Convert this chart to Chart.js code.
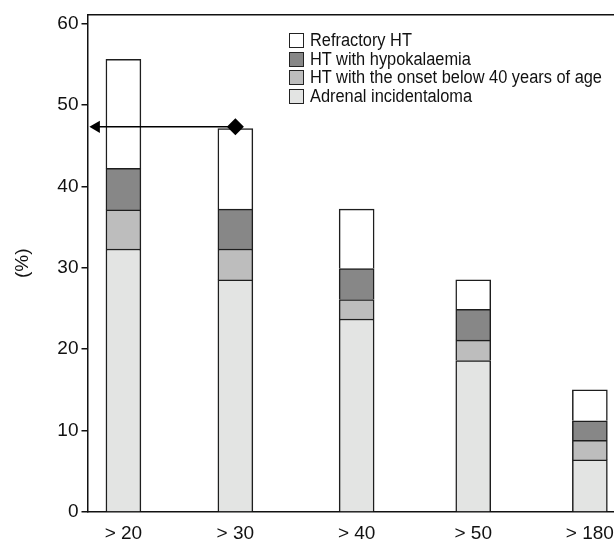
<!DOCTYPE html>
<html lang="en">
<head>
<meta charset="UTF-8">
<title>Screening groups</title>
<script src="https://cdn.jsdelivr.net/npm/chart.js@4"></script>
<style>
  html, body { margin: 0; padding: 0; background: #fff; overflow: hidden; }
  #wrap { position: relative; width: 614px; height: 542px; overflow: hidden; }
  #legend {
    position: absolute; left: 289px; top: 31px;
    font-family: 'Liberation Sans', Arial, sans-serif; font-size: 18px; color: #111;
  }
  .row { display: flex; align-items: center; height: 18.7px; white-space: nowrap; }
  .box { width: 13px; height: 13px; border: 1.3px solid #222; flex: none; }
  .lbl { margin-left: 6px; transform: scaleX(0.91); transform-origin: left center; }
</style>
</head>
<body>
<div id="wrap">
  <canvas id="chart" width="614" height="560"></canvas>
  <div id="legend"></div>
</div>
<script>
// categories and where they sit on the x axis
const categories = ['> 20', '> 30', '> 40', '> 50', '> 180'];
const categoryX = [0, 0.96, 2, 3, 4];

// stacked segments, bottom to top (%)
const adrenal = [32.3, 28.5, 23.7, 18.6, 6.4];
const onsetBelow40 = [4.8, 3.8, 2.4, 2.5, 2.4];
const hypokalaemia = [5.1, 4.9, 3.8, 3.8, 2.4];
const refractory = [13.4, 9.9, 7.3, 3.6, 3.8];

const seriesNames = ['Adrenal incidentaloma', 'HT with the onset below 40 years of age', 'HT with hypokalaemia', 'Refractory HT'];
const seriesColors = ['#e3e4e3', '#bdbdbd', '#878787', '#ffffff'];

// y axis: labelled ticks, axis runs a little past the last one
const yTicks = [0, 10, 20, 30, 40, 50, 60];
const yMax = 61.1;

// arrow from the > 30 column back to the y axis
const arrowX = [-0.232, 0.96];
const arrowY = [47.3, 47.3];

const FONT = "'Liberation Sans', Arial, sans-serif";
Chart.defaults.font.family = FONT;
Chart.defaults.color = '#111';

const series = [adrenal, onsetBelow40, hypokalaemia, refractory];

const barSets = series.map((vals, i) => ({
  type: 'bar',
  label: seriesNames[i],
  data: vals.map((v, j) => ({ x: categoryX[j], y: v })),
  backgroundColor: seriesColors[i],
  borderColor: '#1e1e1e',
  borderWidth: 1.5,
  borderSkipped: 'start',
  barThickness: 35,
  stack: 'main',
  order: 1
}));

const arrowSet = {
  type: 'line',
  label: 'arrow',
  data: arrowX.map((x, i) => ({ x, y: arrowY[i] })),
  borderColor: '#000',
  borderWidth: 1.5,
  backgroundColor: '#000',
  pointBackgroundColor: '#000',
  pointBorderColor: '#000',
  pointBorderWidth: 0,
  pointStyle: ['triangle', 'rectRot'],
  pointRotation: [-90, 0],
  pointRadius: [7, 8.5],
  stack: 'arrow',
  order: 0
};

// legend, top series first
const legend = document.getElementById('legend');
for (let i = seriesNames.length - 1; i >= 0; i--) {
  const row = document.createElement('div');
  row.className = 'row';
  row.innerHTML = '<span class="box" style="background:' + seriesColors[i] + '"></span><span class="lbl"></span>';
  row.querySelector('.lbl').textContent = seriesNames[i];
  legend.appendChild(row);
}

new Chart(document.getElementById('chart'), {
  type: 'bar',
  data: { datasets: [...barSets, arrowSet] },
  options: {
    responsive: false,
    animation: false,
    devicePixelRatio: 1,
    layout: { autoPadding: false, padding: { top: 14.5, right: 0, left: 0, bottom: 0 } },
    plugins: { legend: { display: false }, tooltip: { enabled: false } },
    scales: {
      x: {
        type: 'linear',
        stacked: true,
        offset: false,
        min: -0.308,
        max: 4.207,
        afterFit: s => { s.height = 48; s.paddingLeft = 0; s.paddingRight = 0; },
        afterBuildTicks: s => { s.ticks = categoryX.map(v => ({ value: v })); },
        ticks: {
          callback: (v, i) => categories[i],
          autoSkip: false,
          maxRotation: 0,
          padding: 10,
          font: { size: 19 },
          color: '#111'
        },
        grid: { display: true, drawOnChartArea: false, drawTicks: false },
        border: { display: true, color: '#111', width: 1.5 }
      },
      x2: {
        type: 'linear',
        position: 'top',
        offset: false,
        afterFit: s => { s.height = 0; s.paddingLeft = 0; s.paddingRight = 0; },
        ticks: { display: false },
        grid: { display: true, drawOnChartArea: false, drawTicks: false },
        border: { display: true, color: '#111', width: 1.5 }
      },
      y: {
        stacked: true,
        min: yTicks[0],
        max: yMax,
        afterFit: s => { s.width = 87.5; s.paddingTop = 0; },
        afterBuildTicks: s => { s.ticks = yTicks.map(v => ({ value: v })); },
        ticks: { padding: 3, font: { size: 19 }, color: '#111' },
        grid: { display: true, drawOnChartArea: false, drawTicks: true, tickLength: 6, color: '#111', lineWidth: 1.5 },
        border: { display: true, color: '#111', width: 1.5 },
        title: { display: true, text: '(%)', font: { size: 19 }, color: '#111', padding: { top: 11, bottom: 0 } }
      }
    }
  }
});
</script>
</body>
</html>
